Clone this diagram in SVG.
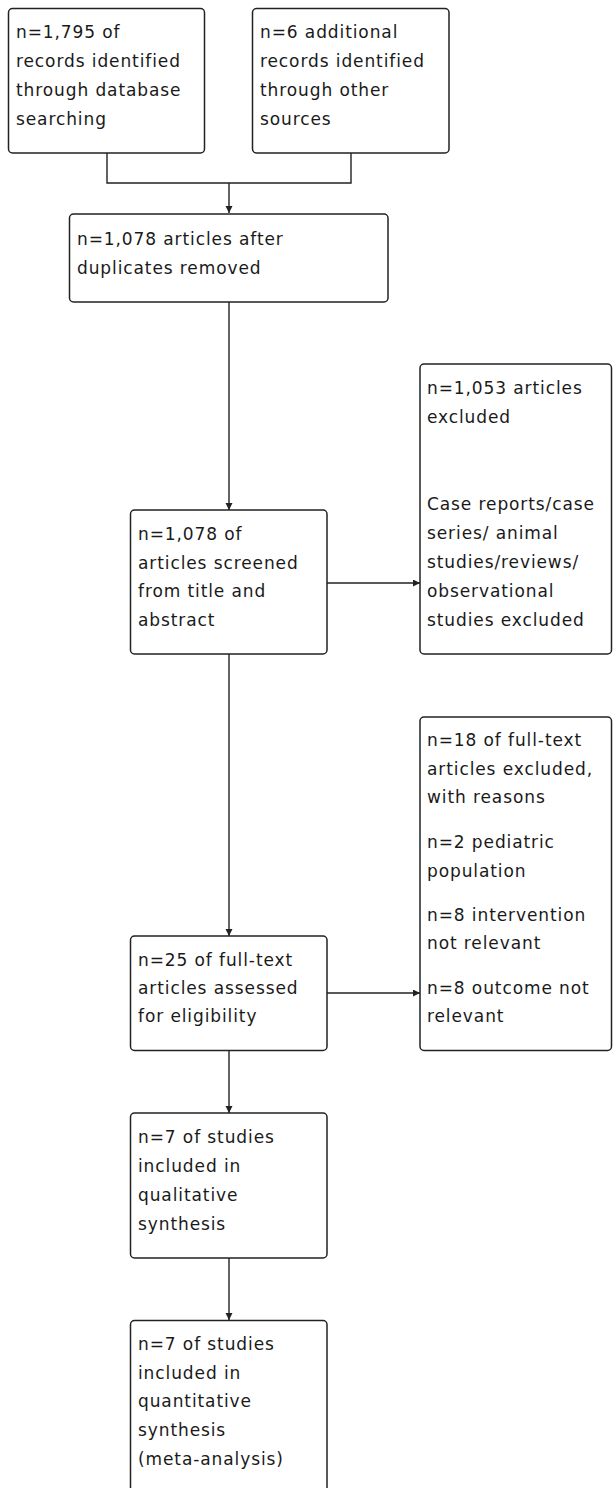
<svg xmlns="http://www.w3.org/2000/svg" width="613" height="1488" viewBox="0 0 613 1488">
<defs>
<style>
.box{fill:#fff;stroke:#222;stroke-width:1.5}
.t{font-family:"DejaVu Sans",sans-serif;font-size:17px;letter-spacing:0.9px;fill:#1a1a1a}
.c{fill:none;stroke:#222;stroke-width:1.4}
</style>
<marker id="ah" markerUnits="userSpaceOnUse" markerWidth="8" markerHeight="8" refX="7" refY="3.5" orient="auto">
<path d="M0,0 L7,3.5 L0,7 z" fill="#222"/>
</marker>
</defs>
<rect width="613" height="1488" fill="#fff"/>
<g id="connectors">
<path class="c" d="M107,153 V183 H351 V153"/>
<path class="c" d="M229,183 V213" marker-end="url(#ah)"/>
<path class="c" d="M229,302 V510" marker-end="url(#ah)"/>
<path class="c" d="M327,583 H420" marker-end="url(#ah)"/>
<path class="c" d="M229,654 V936" marker-end="url(#ah)"/>
<path class="c" d="M327,993 H420" marker-end="url(#ah)"/>
<path class="c" d="M229,1051 V1113" marker-end="url(#ah)"/>
<path class="c" d="M229,1258 V1320" marker-end="url(#ah)"/>
</g>
<g id="n1">
<rect class="box" x="8.5" y="8.5" width="196" height="144.5" rx="4"/>
<text class="t" x="16" y="38">n=1,795 of</text>
<text class="t" x="16" y="67">records identified</text>
<text class="t" x="16" y="96">through database</text>
<text class="t" x="16" y="124.5">searching</text>
</g>
<g id="n2">
<rect class="box" x="252.5" y="8.5" width="196.5" height="144.5" rx="4"/>
<text class="t" x="260" y="38">n=6 additional</text>
<text class="t" x="260" y="67">records identified</text>
<text class="t" x="260" y="96">through other</text>
<text class="t" x="260" y="124.5">sources</text>
</g>
<g id="n3">
<rect class="box" x="69.5" y="214" width="318.5" height="88" rx="4"/>
<text class="t" x="77" y="245">n=1,078 articles after</text>
<text class="t" x="77" y="273.5">duplicates removed</text>
</g>
<g id="n4">
<rect class="box" x="130.5" y="510" width="196.5" height="144" rx="4"/>
<text class="t" x="138" y="540">n=1,078 of</text>
<text class="t" x="138" y="568.5">articles screened</text>
<text class="t" x="138" y="597">from title and</text>
<text class="t" x="138" y="626">abstract</text>
</g>
<g id="n5">
<rect class="box" x="420" y="364" width="191.5" height="290" rx="4"/>
<text class="t" x="427" y="394">n=1,053 articles</text>
<text class="t" x="427" y="423">excluded</text>
<text class="t" x="427" y="510">Case reports/case</text>
<text class="t" x="427" y="539">series/ animal</text>
<text class="t" x="427" y="568">studies/reviews/</text>
<text class="t" x="427" y="597">observational</text>
<text class="t" x="427" y="625.5">studies excluded</text>
</g>
<g id="n6">
<rect class="box" x="130.5" y="936" width="196.5" height="114.5" rx="4"/>
<text class="t" x="138" y="965.5">n=25 of full-text</text>
<text class="t" x="138" y="994">articles assessed</text>
<text class="t" x="138" y="1022">for eligibility</text>
</g>
<g id="n7">
<rect class="box" x="420" y="717" width="191.5" height="333.5" rx="4"/>
<text class="t" x="427" y="746">n=18 of full-text</text>
<text class="t" x="427" y="775">articles excluded,</text>
<text class="t" x="427" y="803">with reasons</text>
<text class="t" x="427" y="848">n=2 pediatric</text>
<text class="t" x="427" y="876.5">population</text>
<text class="t" x="427" y="920.5">n=8 intervention</text>
<text class="t" x="427" y="949">not relevant</text>
<text class="t" x="427" y="993.5">n=8 outcome not</text>
<text class="t" x="427" y="1022">relevant</text>
</g>
<g id="n8">
<rect class="box" x="130.5" y="1113" width="196.5" height="145" rx="4"/>
<text class="t" x="138" y="1143">n=7 of studies</text>
<text class="t" x="138" y="1172">included in</text>
<text class="t" x="138" y="1200.5">qualitative</text>
<text class="t" x="138" y="1229.5">synthesis</text>
</g>
<g id="n9">
<rect class="box" x="130.5" y="1320.5" width="196.5" height="180" rx="4"/>
<text class="t" x="138" y="1350">n=7 of studies</text>
<text class="t" x="138" y="1378.5">included in</text>
<text class="t" x="138" y="1407">quantitative</text>
<text class="t" x="138" y="1436">synthesis</text>
<text class="t" x="138" y="1465">(meta-analysis)</text>
</g>
</svg>
